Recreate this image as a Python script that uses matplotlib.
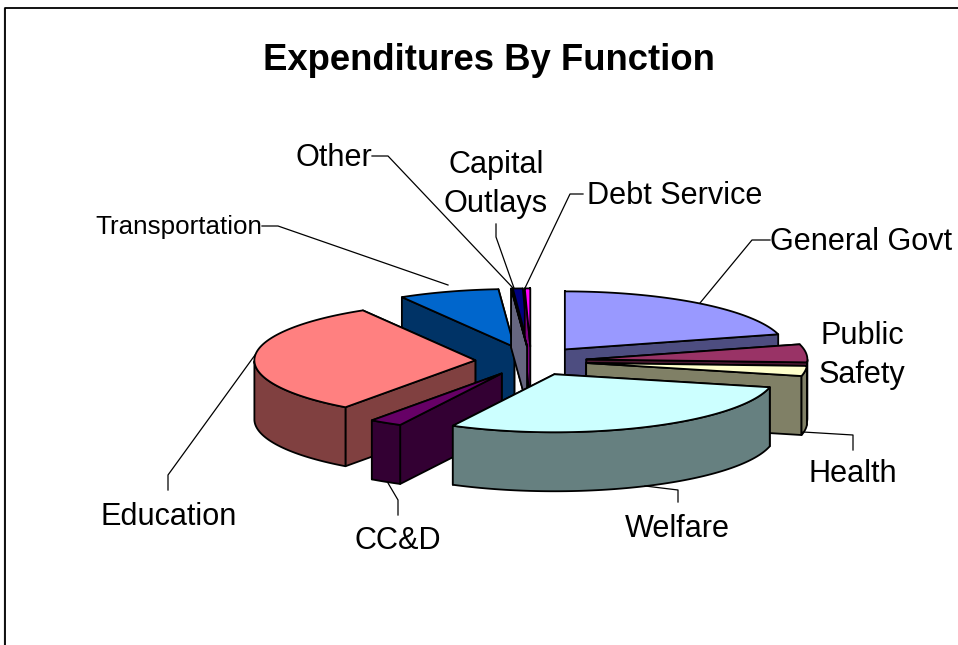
import numpy as np
import matplotlib
matplotlib.use('Agg')
import matplotlib.pyplot as plt
from matplotlib.colors import to_rgb
from matplotlib.patches import Polygon

plt.rcParams['font.family'] = ['Liberation Sans', 'DejaVu Sans']

# --- DATA (share of total, percent, clockwise from 12 o'clock) ---
functions = ['General Govt', 'Public Safety', 'Health', 'Welfare', 'CC&D',
             'Education', 'Transportation', 'Other', 'Capital Outlays', 'Debt Service']
shares = [20.8, 5.0, 2.8, 29.0, 2.4, 31.5, 7.35, 0.03, 0.72, 0.40]
colors = ['#9999FF', '#993366', '#FFFFCC', '#CCFFFF', '#660066',
          '#FF8080', '#0066CC', '#CCCCFF', '#000080', '#FF00FF']

# back slices first
draw_order = [0, 6, 8, 9, 7, 1, 2, 5, 4, 3]

# pie geometry in pixels
cx, cy = 531, 361
rx, ry = 221, 58
depth = 59
explode = 0.252
lw = 1.3


def to_screen(theta, r, offset):
    x = cx + rx * (offset[0] + r * np.sin(theta))
    y = cy - ry * (offset[1] + r * np.cos(theta))
    return np.column_stack([x, y])


def draw_slice(ax, t0, t1, color):
    mid = (t0 + t1) / 2
    offset = (explode * np.sin(mid), explode * np.cos(mid))
    side = tuple(c * 0.5 for c in to_rgb(color))
    down = np.array([0, depth])

    thetas = np.linspace(t0, t1, 80)
    arc = to_screen(thetas, 1, offset)
    apex = to_screen(np.array([0.0]), 0, offset)

    # radial faces, the one further back goes first
    faces = []
    for end in (arc[0], arc[-1]):
        faces.append(np.array([apex[0], end, end + down, apex[0] + down]))
    faces.sort(key=lambda f: f[:, 1].mean())
    for f in faces:
        ax.add_patch(Polygon(f, closed=True, fc=side, ec='black', lw=lw, joinstyle='round'))

    # outer wall only where it faces the viewer
    front = (thetas >= np.pi / 2) & (thetas <= 3 * np.pi / 2)
    if front.sum() > 1:
        a = arc[front]
        ax.add_patch(Polygon(np.vstack([a, (a + down)[::-1]]), closed=True,
                             fc=side, ec='black', lw=lw, joinstyle='round'))

    ax.add_patch(Polygon(np.vstack([apex, arc]), closed=True, fc=color, ec='black',
                         lw=lw, joinstyle='round'))


fig = plt.figure(figsize=(9.58, 6.45), dpi=100)
ax = fig.add_axes([0, 0, 1, 1])
ax.set_xlim(0, 958)
ax.set_ylim(645, 0)
ax.axis('off')

# chart frame, runs off the picture on the right and at the bottom
ax.plot([4.5, 4.5], [8, 645], color='#b0b0b0', lw=1.0)
ax.plot([5.5, 5.5, 958], [645, 8, 8], color='black', lw=1.3)

edges = np.cumsum([0] + shares) / sum(shares) * 2 * np.pi
for i in draw_order:
    draw_slice(ax, edges[i], edges[i + 1], colors[i])

ax.text(489, 60, 'Expenditures By Function', fontsize=26.3, fontweight='bold',
        ha='center', va='center')

labels = [('General Govt', 861, 242, 22.1), ('Public\nSafety', 862, 355.5, 22.1),
          ('Health', 853, 474, 22.1), ('Welfare', 677, 529, 22.1),
          ('CC&D', 398, 541, 22.1), ('Education', 169, 517, 22.1),
          ('Transportation', 178.5, 227, 18.7), ('Other', 334, 158, 22.1),
          ('Capital\nOutlays', 496, 184.5, 22.1), ('Debt Service', 675, 196, 22.1)]
for text, x, y, size in labels:
    ax.text(x, y, text, fontsize=size, ha='center', va='center', linespacing=1.35)

leaders = [([700, 752, 770], [303, 240, 240]),
           ([803, 853, 853], [432, 435, 450]),
           ([645, 678, 678], [486, 490, 502]),
           ([388, 398, 398], [483, 500, 515]),
           ([255, 168, 168], [355, 475, 490]),
           ([262, 278, 448], [226, 226, 285]),
           ([372, 388, 513], [156, 156, 288]),
           ([496, 496, 514], [224, 237, 288]),
           ([583, 570, 525], [194, 194, 288])]
for xs, ys in leaders:
    ax.plot(xs, ys, color='black', lw=0.9)

fig.savefig('out.png', dpi=100)
